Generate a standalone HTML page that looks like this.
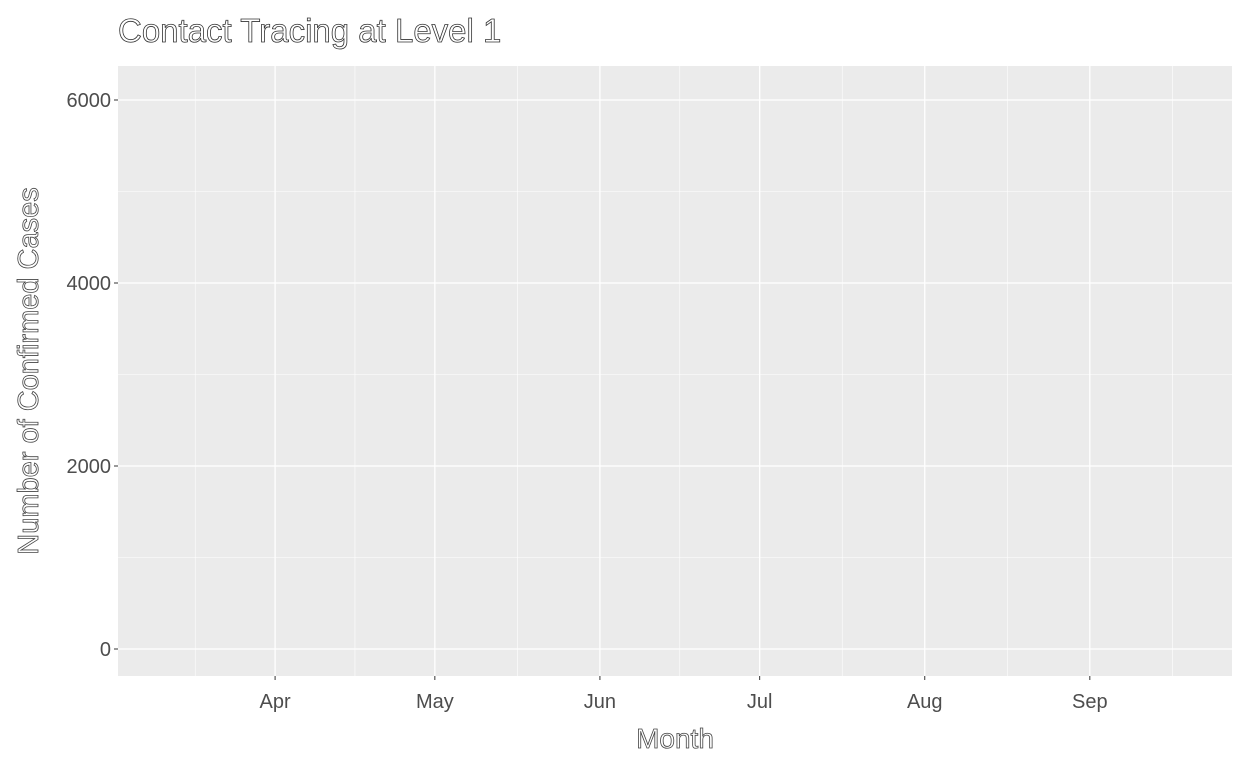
<!DOCTYPE html>
<html><head><meta charset="utf-8">
<style>
body{margin:0;background:#fff;width:1248px;height:768px;overflow:hidden;font-family:"Liberation Sans",Arial,sans-serif;}
</style></head>
<body>
<svg id="chart" width="1248" height="768" xmlns="http://www.w3.org/2000/svg">
<text x="118" y="42" font-size="33" fill="#ffffff" stroke="#333" stroke-width="0.8">Contact Tracing at Level 1</text>
<rect x="118" y="66" width="1114" height="610" fill="#ebebeb"/>
<g id="grid"></g>
<g id="ticks"></g>
<g id="series"></g>
<text x="675" y="748" text-anchor="middle" font-size="28" fill="#fff" stroke="#444" stroke-width="0.8">Month</text>
<text transform="translate(38,371) rotate(-90)" text-anchor="middle" font-size="29" fill="#fff" stroke="#444" stroke-width="0.8">Number of Confirmed Cases</text>
</svg>
<script>
const monthLabels = ["Apr","May","Jun","Jul","Aug","Sep"];
const monthDays = [91,121,152,182,213,244];
const yTicks = [0,2000,4000,6000];
const dates = [];
const cases = [];

const NS="http://www.w3.org/2000/svg";
const X0=118,X1=1232,Y0=66,Y1=676;
const dMin=61.5,dMax=270.7;
const x=d=>X0+(d-dMin)/(dMax-dMin)*(X1-X0);
const y=v=>649-v*(183/2000);
function mk(tag,attrs,parent){const e=document.createElementNS(NS,tag);for(const k in attrs)e.setAttribute(k,attrs[k]);parent.appendChild(e);return e;}
const grid=document.getElementById('grid'),ticks=document.getElementById('ticks'),series=document.getElementById('series');
for(let i=0;i<yTicks.length-1;i++){const v=(yTicks[i]+yTicks[i+1])/2;
 const l=mk('line',{x1:X0,x2:X1,y1:y(v),y2:y(v),stroke:'#fff','stroke-width':0.6},grid);
 
 }
const minors=[monthDays[0]-(monthDays[1]-monthDays[0])/2];
for(let i=0;i<monthDays.length-1;i++)minors.push((monthDays[i]+monthDays[i+1])/2);
minors.push(monthDays[monthDays.length-1]+15.5);
minors.forEach(d=>{const l=mk('line',{x1:x(d),x2:x(d),y1:Y0,y2:Y1,stroke:'#fff','stroke-width':0.6},grid);
 
 });
yTicks.forEach(v=>{
 const l=mk('line',{x1:X0,x2:X1,y1:y(v),y2:y(v),stroke:'#fff','stroke-width':1.3},grid);
 
 
 const t=mk('line',{x1:X0-4,x2:X0,y1:y(v),y2:y(v),stroke:'#333','stroke-width':1},ticks);
 
 
 const tx=mk('text',{x:X0-7,y:y(v)+7,'text-anchor':'end','font-size':20,fill:'#4d4d4d'},ticks);
 tx.textContent=v;
 
 
});
monthDays.forEach((d,i)=>{
 const l=mk('line',{x1:x(d),x2:x(d),y1:Y0,y2:Y1,stroke:'#fff','stroke-width':1.3},grid);
 
 
 const t=mk('line',{x1:x(d),x2:x(d),y1:Y1,y2:Y1+4,stroke:'#333','stroke-width':1},ticks);
 
 
 const tx=mk('text',{x:x(d),y:Y1+32,'text-anchor':'middle','font-size':20,fill:'#4d4d4d'},ticks);
 tx.textContent=monthLabels[i];
 
 
});
if(dates.length){
 const p=mk('path',{d:dates.map((d,i)=>(i?'L':'M')+x(d)+','+y(cases[i])).join(''),fill:'none',stroke:'#000','stroke-width':1},series);
 
 
}
</script>
</body></html>
